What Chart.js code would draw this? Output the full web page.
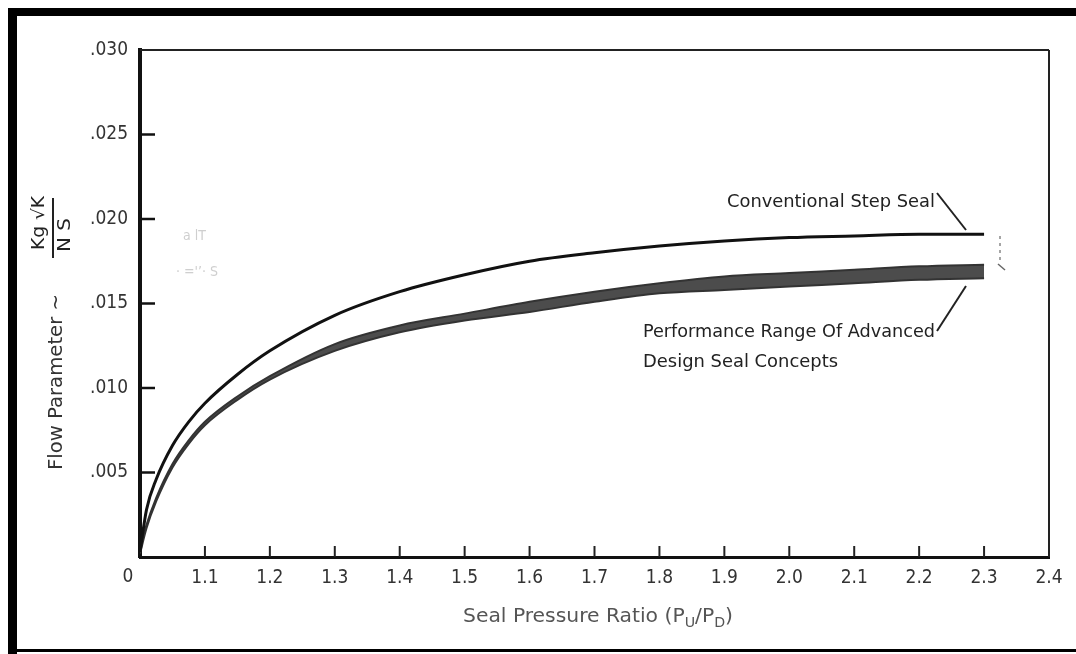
<!DOCTYPE html>
<html>
<head>
<meta charset="utf-8">
<title>Seal Flow Parameter</title>
<script src="https://cdn.jsdelivr.net/npm/chart.js@4.4.1/dist/chart.umd.min.js"></script>
<style>
  body { margin: 0; background: #fff; }
  canvas { display: block; }
</style>
</head>
<body>
<canvas id="sealChart" width="1076" height="654"></canvas>
<script>
// seal pressure ratio Pu/Pd
const pressureRatio = [1.0, 1.01, 1.025, 1.05, 1.075, 1.1, 1.15, 1.2, 1.3, 1.4, 1.5, 1.6, 1.7, 1.8, 1.9, 2.0, 2.1, 2.2, 2.3];
// flow parameter, conventional step seal
const conventionalFlow = [0.0003, 0.0028, 0.0046, 0.0066, 0.0080, 0.0091, 0.0108, 0.0122, 0.0143, 0.0157, 0.0167, 0.0175, 0.0180, 0.0184, 0.0187, 0.0189, 0.0190, 0.0191, 0.0191];
// performance range of advanced seal concepts (upper / lower edge of the band)
const advancedHigh = [0.0004, 0.0019, 0.0035, 0.0055, 0.0069, 0.0080, 0.0095, 0.0107, 0.0126, 0.0137, 0.0144, 0.0151, 0.0157, 0.0162, 0.0166, 0.0168, 0.0170, 0.0172, 0.0173];
const advancedLow = [0.0002, 0.0017, 0.0033, 0.0053, 0.0067, 0.0078, 0.0093, 0.0105, 0.0122, 0.0133, 0.0140, 0.0145, 0.0151, 0.0156, 0.0158, 0.0160, 0.0162, 0.0164, 0.0165];

const xTicks = [1.0, 1.1, 1.2, 1.3, 1.4, 1.5, 1.6, 1.7, 1.8, 1.9, 2.0, 2.1, 2.2, 2.3, 2.4];
const xTickLabels = ['', '1.1', '1.2', '1.3', '1.4', '1.5', '1.6', '1.7', '1.8', '1.9', '2.0', '2.1', '2.2', '2.3', '2.4'];
const yTicks = [0.005, 0.010, 0.015, 0.020, 0.025, 0.030];
const yTickLabels = ['.005', '.010', '.015', '.020', '.025', '.030'];

const FONT = '"Liberation Sans Narrow", "DejaVu Sans Condensed", "Arial Narrow", sans-serif';

function points(values) {
    return pressureRatio.map((x, i) => ({ x: x, y: values[i] }));
}

// draws text squeezed or stretched to a given width, left edge at x
function fitText(c, text, x, y, width, size, color) {
    c.save();
    c.font = size + 'px ' + FONT;
    c.fillStyle = color;
    c.textBaseline = 'middle';
    c.textAlign = 'left';
    const w = c.measureText(text).width;
    c.translate(x, y);
    c.scale(width / w, 1);
    c.fillText(text, 0, 0);
    c.restore();
}

function line(c, x1, y1, x2, y2, width, color) {
    c.save();
    c.strokeStyle = color;
    c.lineWidth = width;
    c.beginPath();
    c.moveTo(x1, y1);
    c.lineTo(x2, y2);
    c.stroke();
    c.restore();
}

const decorPlugin = {
    id: 'sealDecor',
    afterDraw(chart) {
        const c = chart.ctx;
        const a = chart.chartArea;
        const xs = chart.scales.x;
        const ys = chart.scales.y;

        // black frame of the figure
        c.fillStyle = '#000';
        c.fillRect(8, 8, 1068, 8);
        c.fillRect(8, 8, 9, 646);
        c.fillRect(8, 649, 1068, 3);

        // top and right edges of the plot box
        line(c, a.left, a.top, a.right, a.top, 2, '#222');
        line(c, a.right, a.top, a.right, a.bottom, 2, '#222');

        // tick marks pointing into the plot
        yTicks.forEach(v => {
            const py = ys.getPixelForValue(v);
            if (v < 0.03) line(c, a.left, py, a.left + 15, py, 2.5, '#111');
        });
        xTicks.forEach(v => {
            const px = xs.getPixelForValue(v);
            if (v > 1.0 && v < 2.4) line(c, px, a.bottom, px, a.bottom - 11, 2, '#222');
        });

        // origin label
        c.save();
        c.font = '19px ' + FONT;
        c.fillStyle = '#333';
        c.textAlign = 'center';
        c.textBaseline = 'middle';
        c.fillText('0', xs.getPixelForValue(1.0) - 12, 577);
        c.restore();

        // y axis title with the unit fraction
        c.save();
        c.translate(57, 470);
        c.rotate(-Math.PI / 2);
        fitText(c, 'Flow Parameter ~', 0, 0, 176, 19, '#333');
        c.restore();

        c.save();
        c.translate(40, 250);
        c.rotate(-Math.PI / 2);
        fitText(c, 'Kg \u221AK', 0, 0, 54, 17, '#222');
        c.restore();
        line(c, 53, 198, 53, 258, 2, '#222');
        c.save();
        c.translate(66, 252);
        c.rotate(-Math.PI / 2);
        fitText(c, 'N S', 0, 0, 34, 17, '#222');
        c.restore();

        // x axis title with subscripts
        const parts = [
            { t: 'Seal Pressure Ratio (P', s: 20, dy: 0 },
            { t: 'U', s: 14, dy: 6 },
            { t: '/P', s: 20, dy: 0 },
            { t: 'D', s: 14, dy: 6 },
            { t: ')', s: 20, dy: 0 }
        ];
        c.save();
        let total = 0;
        parts.forEach(p => {
            c.font = p.s + 'px ' + FONT;
            p.w = c.measureText(p.t).width;
            total += p.w;
        });
        const sx = 270 / total;
        c.translate(463, 617);
        c.scale(sx, 1);
        c.fillStyle = '#555';
        c.textBaseline = 'middle';
        let cx = 0;
        parts.forEach(p => {
            c.font = p.s + 'px ' + FONT;
            c.fillText(p.t, cx, p.dy);
            cx += p.w;
        });
        c.restore();

        // curve labels and leader lines
        fitText(c, 'Conventional Step Seal', 727, 202, 208, 18, '#222');
        line(c, 937, 193, 966, 230, 2, '#222');
        fitText(c, 'Performance Range Of Advanced', 643, 332, 292, 18, '#222');
        fitText(c, 'Design Seal Concepts', 643, 362, 195, 18, '#222');
        line(c, 937, 331, 966, 286, 2, '#222');

        // faint dashed bracket right of the curves
        c.save();
        c.setLineDash([3, 4]);
        line(c, 1000, 236, 1000, 262, 1.5, '#888');
        c.restore();
        line(c, 998, 264, 1005, 270, 1.5, '#666');

        // faint marks bleeding through near the axis
        c.save();
        c.font = '14px ' + FONT;
        c.fillStyle = '#cfcfcf';
        c.textBaseline = 'middle';
        c.fillText('a lT', 183, 236);
        c.fillText('\u00B7 =\'\u2019\u00B7 S', 176, 272);
        c.restore();
    }
};

const ctx = document.getElementById('sealChart').getContext('2d');

const sealChart = new Chart(ctx, {
    type: 'line',
    data: {
        datasets: [
            {
                label: 'Conventional Step Seal',
                data: points(conventionalFlow),
                borderColor: '#111',
                borderWidth: 3,
                pointRadius: 0,
                fill: false,
                cubicInterpolationMode: 'monotone'
            },
            {
                label: 'Advanced (low)',
                data: points(advancedLow),
                borderColor: '#333',
                borderWidth: 2,
                pointRadius: 0,
                fill: false,
                cubicInterpolationMode: 'monotone'
            },
            {
                label: 'Advanced (high)',
                data: points(advancedHigh),
                borderColor: '#333',
                borderWidth: 2,
                pointRadius: 0,
                fill: '-1',
                backgroundColor: 'rgba(45, 45, 45, 0.85)',
                cubicInterpolationMode: 'monotone'
            }
        ]
    },
    options: {
        responsive: false,
        animation: false,
        layout: { padding: { left: 0, top: 50, right: 27, bottom: 0 } },
        plugins: {
            legend: { display: false },
            tooltip: { enabled: false }
        },
        scales: {
            x: {
                type: 'linear',
                min: 1.0,
                max: 2.4,
                afterBuildTicks: s => { s.ticks = xTicks.map(v => ({ value: v })); },
                afterFit: s => { s.height = 97; },
                ticks: {
                    autoSkip: false,
                    maxRotation: 0,
                    padding: 10,
                    color: '#333',
                    font: { family: FONT, size: 19 },
                    callback: (v, i) => xTickLabels[i]
                },
                grid: { display: true, drawOnChartArea: false, drawTicks: false },
                border: { display: true, color: '#111', width: 3 }
            },
            y: {
                type: 'linear',
                min: 0,
                max: 0.03,
                afterBuildTicks: s => { s.ticks = yTicks.map(v => ({ value: v })); },
                afterFit: s => { s.width = 140; },
                ticks: {
                    padding: 12,
                    color: '#333',
                    font: { family: FONT, size: 19 },
                    callback: (v, i) => yTickLabels[i]
                },
                grid: { display: true, drawOnChartArea: false, drawTicks: false },
                border: { display: true, color: '#111', width: 4 }
            }
        }
    },
    plugins: [decorPlugin]
});
</script>
</body>
</html>
